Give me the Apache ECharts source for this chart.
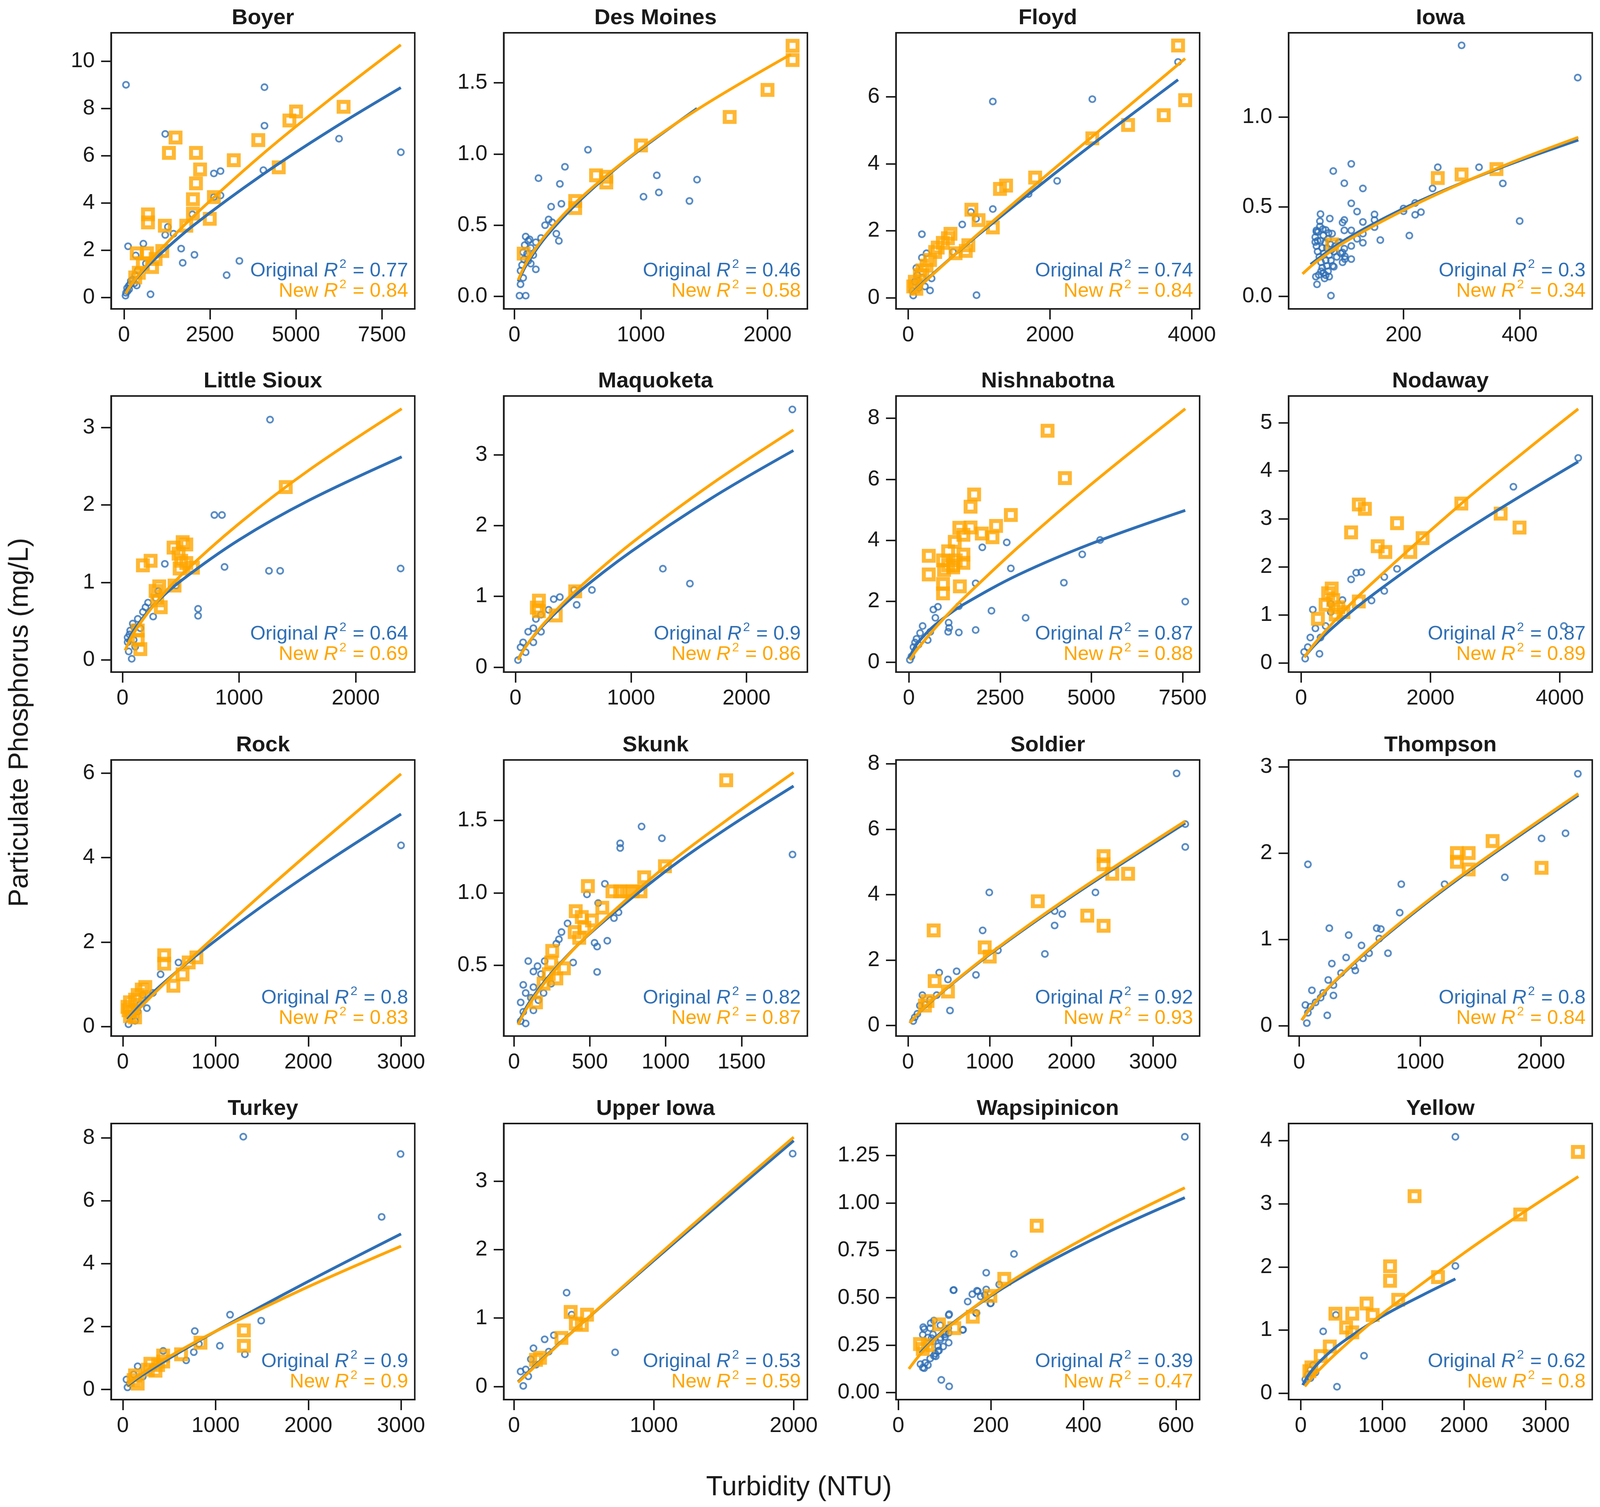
<!DOCTYPE html>
<html>
<head>
<meta charset="utf-8">
<script src="https://cdn.jsdelivr.net/npm/echarts@6/dist/echarts.min.js"></script>
<style>html,body{margin:0;padding:0;background:#fff;overflow:hidden;}#c{width:100vw;height:100vh;}</style>
</head>
<body>
<div id="c"></div>
<script>
const panelNames = ['Boyer','Des Moines','Floyd','Iowa','Little Sioux','Maquoketa','Nishnabotna','Nodaway','Rock','Skunk','Soldier','Thompson','Turkey','Upper Iowa','Wapsipinicon','Yellow'];
const origR2 = ['0.77','0.46','0.74','0.3','0.64','0.9','0.87','0.87','0.8','0.82','0.92','0.8','0.9','0.53','0.39','0.62'];
const newR2  = ['0.84','0.58','0.84','0.34','0.69','0.86','0.88','0.89','0.83','0.87','0.93','0.84','0.9','0.59','0.47','0.8'];
const xTicks = [[0,2500,5000,7500],[0,1000,2000],[0,2000,4000],[200,400],[0,1000,2000],[0,1000,2000],[0,2500,5000,7500],[0,2000,4000],[0,1000,2000,3000],[0,500,1000,1500],[0,1000,2000,3000],[0,1000,2000],[0,1000,2000,3000],[0,1000,2000],[0,200,400,600],[0,1000,2000,3000]];
const yTicks = [[0,2,4,6,8,10],[0,0.5,1,1.5],[0,2,4,6],[0,0.5,1],[0,1,2,3],[0,1,2,3],[0,2,4,6,8],[0,1,2,3,4,5],[0,2,4,6],[0.5,1,1.5],[0,2,4,6,8],[0,1,2,3],[0,2,4,6,8],[0,1,2,3],[0,0.25,0.5,0.75,1,1.25],[0,1,2,3,4]];
const yDecimals = [0,1,0,1,0,0,0,0,0,1,0,0,0,0,2,0];
const xRanges = [[-375,8455],[-85,2315],[-172,4110],[2,525],[-98,2506],[-102,2527],[-354,7966],[-194,4501],[-127,3148],[-68,1934],[-149,3570],[-88,2423],[-127,3148],[-74,2098],[-5,651],[-149,3570]];
const yRanges = [[-0.48,11.2],[-0.088,1.851],[-0.33,7.91],[-0.07,1.47],[-0.156,3.405],[-0.07,3.83],[-0.32,8.73],[-0.19,5.56],[-0.22,6.31],[0.013,1.917],[-0.32,8.12],[-0.12,3.08],[-0.32,8.46],[-0.19,3.84],[-0.037,1.419],[-0.1,4.27]];

// ---- Boyer
const boyerOrig = [[59,9.0],[4085,8.9],[4085,7.27],[6253,6.72],[8050,6.15],[1200,6.92],[2614,5.25],[2807,5.35],[4054,5.39],[2807,4.32],[2614,4.25],[1990,3.52],[1277,2.99],[1200,2.65],[1440,2.7],[1663,2.07],[1708,1.47],[2049,1.81],[3356,1.55],[2985,0.95],[772,0.14],[119,2.17],[564,2.28],[45,0.08],[104,0.27],[178,0.56],[252,0.76],[327,0.95],[401,1.15],[371,0.51],[342,1.78],[638,1.44],[60,0.2],[90,0.4],[140,0.5],[200,0.7],[300,0.6],[150,0.35]];
const boyerNew = [[6386,8.07],[5004,7.87],[4811,7.49],[3905,6.66],[1500,6.77],[1307,6.12],[2094,6.12],[2213,5.42],[3193,5.81],[4500,5.51],[2094,4.83],[2005,4.16],[2614,4.25],[2005,3.55],[2495,3.33],[1812,3.04],[1188,3.04],[698,3.52],[698,3.18],[1114,1.97],[371,1.87],[668,1.87],[921,1.63],[817,1.29],[549,1.44],[431,1.05],[327,0.85]];
const boyerOrigFit = [[50,0.176],[200,0.51],[500,1.04],[1000,1.77],[2000,3.03],[4000,5.17],[6000,7.08],[8050,8.88]];
const boyerNewFit = [[50,0.166],[200,0.52],[500,1.09],[1000,1.93],[2000,3.41],[4000,6.03],[6000,8.40],[8050,10.69]];
// ---- Des Moines
const desMoinesOrig = [[581,1.03],[399,0.91],[190,0.83],[359,0.79],[371,0.65],[290,0.63],[1125,0.85],[1443,0.82],[1141,0.73],[1020,0.70],[1383,0.67],[270,0.54],[298,0.52],[242,0.50],[331,0.44],[351,0.39],[210,0.41],[169,0.38],[89,0.42],[109,0.39],[129,0.34],[69,0.31],[149,0.29],[109,0.25],[169,0.19],[48,0.18],[69,0.13],[48,0.085],[40,0.005],[89,0.005],[129,0.23],[81,0.36],[60,0.22],[100,0.3],[75,0.26],[120,0.4]];
const desMoinesNew = [[2198,1.76],[2198,1.66],[2000,1.45],[1701,1.26],[1000,1.06],[645,0.85],[726,0.84],[726,0.80],[480,0.67],[480,0.62],[73,0.30]];
const desMoinesOrigFit = [[30,0.105],[100,0.23],[250,0.42],[500,0.659],[800,0.897],[1100,1.10],[1443,1.32]];
const desMoinesNewFit = [[30,0.115],[100,0.245],[250,0.435],[500,0.673],[1000,1.04],[1500,1.343],[2185,1.70]];
// ---- Floyd
const floydOrig = [[3806,7.04],[2597,5.93],[1194,5.86],[2101,3.49],[1698,3.10],[763,2.19],[1194,2.65],[194,1.90],[964,0.08],[309,0.22],[331,0.58],[259,1.33],[194,1.20],[115,0.89],[237,0.34],[165,0.41],[72,0.07],[58,0.21],[94,0.48],[129,0.68],[633,1.37],[957,2.36],[885,2.56],[150,0.3],[200,0.6]];
const floydNew = [[3806,7.53],[3906,5.90],[3604,5.45],[3101,5.16],[2597,4.76],[1791,3.59],[1381,3.35],[1295,3.25],[892,2.63],[993,2.32],[1194,2.10],[849,1.57],[813,1.40],[669,1.33],[597,1.91],[561,1.78],[489,1.64],[417,1.50],[381,1.37],[309,1.13],[259,0.96],[201,0.82],[165,0.68],[94,0.48],[72,0.34],[115,0.27]];
const floydOrigFit = [[50,0.12],[200,0.43],[500,1.00],[1000,1.90],[2000,3.6],[3000,5.23],[3806,6.51]];
const floydNewFit = [[50,0.11],[200,0.41],[500,0.99],[1000,1.93],[2000,3.75],[3000,5.53],[3906,7.14]];
// ---- Iowa
const iowaOrig = [[300,1.40],[500,1.22],[110,0.739],[79,0.699],[98,0.631],[130,0.602],[110,0.519],[120,0.473],[57,0.459],[150,0.457],[56,0.419],[73,0.434],[98,0.426],[95,0.412],[130,0.415],[150,0.426],[150,0.386],[200,0.49],[200,0.475],[220,0.521],[220,0.455],[230,0.47],[210,0.339],[160,0.314],[250,0.602],[259,0.72],[330,0.72],[371,0.63],[400,0.42],[110,0.368],[98,0.368],[130,0.35],[130,0.299],[120,0.321],[110,0.281],[99,0.208],[110,0.208],[99,0.223],[75,0.004],[51,0.067],[49,0.11],[66,0.118],[71,0.354],[77,0.35],[50,0.368],[61,0.375],[48,0.303],[52,0.31],[90,0.303],[98,0.266],[95,0.245],[80,0.165],[48,0.33],[50,0.28],[52,0.25],[55,0.22],[58,0.19],[60,0.16],[62,0.13],[53,0.36],[57,0.31],[60,0.27],[63,0.24],[66,0.2],[68,0.17],[70,0.14],[65,0.3],[68,0.27],[72,0.23],[75,0.2],[78,0.17],[80,0.25],[74,0.29],[62,0.34],[56,0.39],[50,0.36],[85,0.22],[82,0.28],[70,0.32],[66,0.37],[58,0.14],[64,0.1],[54,0.12],[72,0.11],[76,0.26],[88,0.3],[92,0.24],[95,0.19]];
const iowaNew = [[259,0.66],[300,0.68],[360,0.71],[77,0.29]];
const iowaOrigFit = [[40,0.178],[100,0.317],[200,0.49],[300,0.632],[400,0.757],[501,0.872]];
const iowaNewFit = [[26,0.125],[50,0.193],[100,0.305],[200,0.48],[300,0.631],[400,0.764],[501,0.887]];
// ---- Little Sioux
const littleSiouxOrig = [[1265,3.10],[788,1.87],[853,1.87],[875,1.20],[1256,1.15],[1352,1.15],[2385,1.18],[363,1.24],[648,0.66],[648,0.57],[459,0.96],[306,0.89],[219,0.74],[175,0.62],[263,0.56],[131,0.53],[88,0.47],[66,0.38],[44,0.29],[96,0.26],[79,0.015],[53,0.11],[109,0.17],[153,0.41],[44,0.23],[197,0.68],[284,0.80],[60,0.33],[100,0.42]];
const littleSiouxNew = [[1400,2.23],[438,1.45],[516,1.52],[547,1.49],[481,1.37],[503,1.28],[547,1.25],[490,1.18],[604,1.19],[175,1.22],[241,1.28],[315,0.95],[446,0.96],[284,0.89],[298,0.77],[328,0.68],[131,0.38],[131,0.26],[153,0.14]];
const littleSiouxOrigFit = [[40,0.225],[100,0.39],[263,0.70],[500,1.02],[1000,1.55],[1600,2.06],[2394,2.62]];
const littleSiouxNewFit = [[22,0.123],[100,0.355],[263,0.695],[500,1.09],[1000,1.76],[1600,2.45],[2394,3.24]];
// ---- Maquoketa
const maquoketaOrig = [[2397,3.64],[1276,1.39],[1510,1.18],[662,1.09],[530,0.88],[508,1.09],[384,0.99],[331,0.96],[287,0.81],[221,0.74],[177,0.68],[155,0.55],[110,0.50],[155,0.35],[88,0.21],[44,0.28],[22,0.10],[221,0.50],[66,0.35]];
const maquoketaNew = [[203,0.94],[203,0.79],[185,0.84],[349,0.73],[517,1.07]];
const maquoketaOrigFit = [[22,0.107],[100,0.316],[250,0.607],[517,1.02],[1000,1.63],[1700,2.39],[2406,3.06]];
const maquoketaNewFit = [[22,0.103],[100,0.316],[250,0.624],[517,1.07],[1000,1.745],[1700,2.59],[2406,3.35]];
// ---- Nishnabotna
const nishnabotnaOrig = [[7572,1.99],[5239,4.01],[4750,3.54],[4247,2.61],[3199,1.46],[2263,1.69],[2794,3.08],[2682,3.93],[2012,3.77],[1830,2.59],[1830,1.06],[1369,1.84],[1369,0.98],[1090,1.30],[1076,1.00],[1104,1.13],[796,1.82],[671,1.73],[726,1.46],[587,1.00],[517,0.73],[377,1.19],[307,0.96],[210,0.77],[126,0.50],[70,0.19],[28,0.08],[168,0.65],[265,0.58]];
const nishnabotnaNew = [[3800,7.59],[4275,6.04],[1788,5.50],[1690,5.10],[2794,4.83],[2389,4.47],[1690,4.42],[1383,4.41],[1495,4.18],[1998,4.22],[2291,4.10],[1257,3.95],[1076,3.64],[1495,3.53],[545,3.49],[1495,3.26],[1285,3.34],[936,3.34],[1076,3.18],[1215,3.18],[964,3.03],[1215,3.11],[545,2.88],[936,2.57],[936,2.26],[1397,2.49]];
const nishnabotnaOrigFit = [[28,0.177],[200,0.571],[600,1.10],[1000,1.49],[1500,1.90],[3000,2.87],[5000,3.89],[7572,4.98]];
const nishnabotnaNewFit = [[28,0.071],[200,0.38],[600,0.96],[1000,1.49],[1500,2.10],[3000,3.78],[5000,5.84],[7572,8.31]];
// ---- Nodaway
const nodawayOrig = [[4284,4.27],[3282,3.67],[4063,0.77],[1483,1.96],[1286,1.79],[1286,1.50],[1089,1.30],[931,1.89],[852,1.88],[773,1.74],[639,1.31],[458,1.23],[181,1.11],[284,0.19],[300,0.53],[221,0.72],[142,0.53],[103,0.33],[63,0.09],[47,0.23],[379,0.77],[458,1.06]];
const nodawayNew = [[2477,3.32],[892,3.30],[986,3.21],[3085,3.11],[3377,2.82],[773,2.72],[1483,2.91],[1184,2.43],[1302,2.31],[1878,2.60],[1688,2.31],[473,1.55],[418,1.45],[497,1.31],[379,1.21],[576,1.16],[655,1.06],[536,1.01],[892,1.28],[260,0.92]];
const nodawayOrigFit = [[50,0.12],[200,0.36],[500,0.75],[1000,1.31],[2000,2.28],[3000,3.15],[4284,4.19]];
const nodawayNewFit = [[50,0.12],[200,0.39],[500,0.85],[1000,1.54],[2477,3.32],[3500,4.45],[4284,5.29]];
// ---- Rock
const rockOrig = [[3000,4.29],[407,1.24],[325,0.80],[259,0.44],[61,0.06],[105,0.25],[160,0.36],[187,0.53],[600,1.52],[215,0.75],[132,0.14]];
const rockNew = [[446,1.69],[446,1.49],[793,1.64],[710,1.52],[644,1.24],[545,0.97],[242,0.94],[204,0.88],[160,0.75],[132,0.64],[77,0.58],[50,0.47],[105,0.36],[77,0.25],[61,0.39],[132,0.22]];
const rockOrigFit = [[50,0.175],[200,0.545],[400,0.96],[800,1.7],[1500,2.85],[2200,3.90],[3000,5.03]];
const rockNewFit = [[50,0.13],[200,0.48],[400,0.92],[800,1.75],[1500,3.14],[2200,4.48],[3000,5.98]];
// ---- Skunk
const skunkOrig = [[1836,1.265],[841,1.458],[975,1.377],[700,1.342],[700,1.31],[599,1.063],[481,0.99],[555,0.93],[689,0.866],[659,0.826],[615,0.67],[531,0.656],[548,0.63],[548,0.455],[390,0.52],[353,0.79],[313,0.73],[296,0.68],[279,0.65],[202,0.53],[94,0.53],[155,0.495],[128,0.458],[178,0.44],[128,0.35],[61,0.366],[77,0.31],[111,0.277],[161,0.26],[44,0.245],[61,0.18],[44,0.116],[77,0.1],[128,0.19],[195,0.31],[245,0.374]];
const skunkNew = [[1399,1.777],[995,1.184],[858,1.108],[834,1.011],[649,1.011],[700,1.011],[743,1.011],[783,1.011],[487,1.047],[407,0.874],[582,0.898],[447,0.834],[514,0.81],[400,0.73],[464,0.76],[430,0.69],[252,0.6],[245,0.52],[329,0.48],[229,0.44],[279,0.41],[195,0.374],[145,0.245]];
const skunkOrigFit = [[27,0.10],[100,0.243],[250,0.451],[500,0.72],[1000,1.15],[1400,1.443],[1843,1.737]];
const skunkNewFit = [[27,0.091],[100,0.231],[250,0.443],[500,0.724],[995,1.18],[1400,1.50],[1843,1.83]];
// ---- Soldier
const soldierOrig = [[3288,7.71],[3394,6.16],[3394,5.46],[2294,4.07],[994,4.07],[1794,3.5],[1888,3.41],[1794,3.06],[1675,2.19],[913,2.91],[1100,2.3],[831,1.55],[594,1.66],[381,1.62],[488,1.41],[513,0.46],[175,0.93],[144,0.61],[113,0.36],[63,0.14],[81,0.25],[206,0.64],[269,0.79],[350,0.93]];
const soldierNew = [[2394,5.18],[2394,4.93],[2500,4.64],[2694,4.64],[1588,3.8],[2194,3.36],[2394,3.05],[313,2.91],[938,2.39],[1000,2.11],[325,1.36],[488,1.04],[238,0.75],[206,0.61]];
const soldierOrigFit = [[20,0.077],[100,0.305],[300,0.78],[1000,2.18],[2000,3.94],[3394,6.19]];
const soldierNewFit = [[20,0.078],[100,0.308],[300,0.787],[1000,2.2],[2000,3.98],[3394,6.25]];
// ---- Thompson
const thompsonOrig = [[2304,2.92],[2202,2.23],[2004,2.17],[1700,1.72],[1202,1.64],[844,1.64],[831,1.31],[72,1.87],[249,1.13],[409,1.05],[641,1.13],[675,1.12],[662,1.01],[515,0.93],[734,0.84],[578,0.84],[527,0.78],[388,0.79],[451,0.69],[464,0.64],[270,0.72],[346,0.61],[240,0.53],[283,0.47],[283,0.35],[105,0.41],[177,0.325],[232,0.12],[63,0.03],[51,0.24],[93,0.22],[135,0.27],[198,0.38],[72,0.15]];
const thompsonNew = [[1304,2.0],[1304,1.9],[1401,2.0],[1401,1.81],[1599,2.14],[2004,1.83]];
const thompsonOrigFit = [[21,0.063],[100,0.216],[300,0.52],[700,1.025],[1300,1.685],[2308,2.67]];
const thompsonNewFit = [[21,0.063],[100,0.218],[300,0.526],[700,1.036],[1300,1.70],[2308,2.69]];
// ---- Turkey
const turkeyOrig = [[1299,8.04],[2995,7.49],[2791,5.49],[1156,2.38],[1492,2.19],[776,1.86],[1046,1.39],[765,1.19],[820,1.45],[1316,1.12],[683,0.93],[435,1.23],[325,0.71],[160,0.74],[116,0.48],[77,0.19],[50,0.07],[215,0.41],[39,0.32]];
const turkeyNew = [[1305,1.88],[1305,1.39],[837,1.49],[628,1.12],[435,1.08],[435,0.89],[380,0.78],[297,0.82],[270,0.63],[352,0.6],[132,0.45],[116,0.3],[160,0.19]];
const turkeyOrigFit = [[50,0.127],[200,0.437],[500,0.99],[1000,1.85],[2000,3.44],[3000,4.95]];
const turkeyNewFit = [[50,0.159],[200,0.494],[500,1.047],[1000,1.85],[2000,3.27],[3000,4.56]];
// ---- Upper Iowa
const upperIowaOrig = [[1993,3.40],[376,1.37],[412,1.05],[723,0.5],[285,0.75],[219,0.69],[248,0.51],[139,0.56],[120,0.40],[84,0.25],[47,0.22],[66,0.01],[102,0.15],[157,0.32]];
const upperIowaNew = [[405,1.09],[522,1.05],[485,0.9],[442,0.92],[339,0.71],[157,0.39],[186,0.42]];
const upperIowaOrigFit = [[29,0.07],[200,0.40],[500,0.95],[1000,1.84],[1500,2.72],[2000,3.59]];
const upperIowaNewFit = [[29,0.06],[200,0.39],[500,0.95],[1000,1.86],[1500,2.76],[2000,3.64]];
// ---- Wapsipinicon
const wapsiOrig = [[619,1.349],[250,0.731],[190,0.632],[120,0.541],[160,0.519],[170,0.537],[178,0.507],[190,0.544],[150,0.48],[200,0.471],[218,0.57],[169,0.419],[109,0.409],[140,0.332],[70,0.366],[54,0.345],[77,0.38],[109,0.263],[93,0.067],[110,0.033],[88,0.222],[81,0.191],[56,0.129],[48,0.15],[56,0.335],[75,0.307],[101,0.307],[101,0.294],[109,0.315],[91,0.28],[72,0.287],[119,0.54],[172,0.534],[187,0.515],[199,0.47],[168,0.42],[139,0.33],[110,0.414],[91,0.355],[69,0.34],[53,0.305],[64,0.29],[75,0.27],[86,0.244],[80,0.206],[69,0.18],[58,0.157],[53,0.132],[64,0.145],[91,0.29],[102,0.317],[108,0.34],[77,0.194],[86,0.219],[97,0.243]];
const wapsiNew = [[299,0.88],[229,0.60],[199,0.51],[161,0.40],[121,0.34],[88,0.36],[64,0.25],[53,0.23],[47,0.256]];
const wapsiOrigFit = [[47,0.208],[100,0.332],[200,0.51],[300,0.656],[450,0.843],[619,1.028]];
const wapsiNewFit = [[23,0.125],[50,0.208],[100,0.327],[200,0.515],[300,0.672],[450,0.876],[619,1.08]];
// ---- Yellow
const yellowOrig = [[1894,4.06],[1894,2.015],[775,0.594],[444,0.104],[275,0.98],[431,1.24],[150,0.445],[119,0.37],[88,0.30],[56,0.22],[181,0.33],[119,0.24]];
const yellowNew = [[3394,3.82],[1394,3.12],[2688,2.83],[1094,2.01],[1094,1.78],[1681,1.84],[1194,1.48],[806,1.42],[881,1.24],[425,1.26],[631,1.26],[556,1.04],[631,0.965],[356,0.74],[244,0.59],[106,0.35],[131,0.41]];
const yellowOrigFit = [[25,0.129],[100,0.30],[250,0.524],[500,0.8],[1000,1.22],[1500,1.56],[1894,1.81]];
const yellowNewFit = [[50,0.108],[200,0.336],[500,0.71],[1000,1.26],[2000,2.22],[2688,2.83],[3400,3.43]];

const origPoints = [boyerOrig,desMoinesOrig,floydOrig,iowaOrig,littleSiouxOrig,maquoketaOrig,nishnabotnaOrig,nodawayOrig,rockOrig,skunkOrig,soldierOrig,thompsonOrig,turkeyOrig,upperIowaOrig,wapsiOrig,yellowOrig];
const newPoints = [boyerNew,desMoinesNew,floydNew,iowaNew,littleSiouxNew,maquoketaNew,nishnabotnaNew,nodawayNew,rockNew,skunkNew,soldierNew,thompsonNew,turkeyNew,upperIowaNew,wapsiNew,yellowNew];
const origFits = [boyerOrigFit,desMoinesOrigFit,floydOrigFit,iowaOrigFit,littleSiouxOrigFit,maquoketaOrigFit,nishnabotnaOrigFit,nodawayOrigFit,rockOrigFit,skunkOrigFit,soldierOrigFit,thompsonOrigFit,turkeyOrigFit,upperIowaOrigFit,wapsiOrigFit,yellowOrigFit];
const newFits = [boyerNewFit,desMoinesNewFit,floydNewFit,iowaNewFit,littleSiouxNewFit,maquoketaNewFit,nishnabotnaNewFit,nodawayNewFit,rockNewFit,skunkNewFit,soldierNewFit,thompsonNewFit,turkeyNewFit,upperIowaNewFit,wapsiNewFit,yellowNewFit];

const BLUE = '#2f6fb5';
const ORANGE = '#ffa500';
const INK = '#1a1a1a';
const FONT = 'Liberation Sans, Arial, sans-serif';

const el = document.getElementById('c');
const CW = el.clientWidth || window.innerWidth || 4336;
const CH = el.clientHeight || window.innerHeight || 3859;
const sx = CW / 4336, sy = CH / 3859, s = Math.sqrt(sx * sy);
const colLeft = [301, 1365, 2428, 3492].map(v => v * sx);
const rowTop = [84, 1014, 1946, 2877].map(v => v * sy);
const W = 823 * sx, H = 707 * sy;

const grids = [], xAxes = [], yAxes = [], series = [], graphics = [];
for (let i = 0; i < 16; i++) {
  const L = colLeft[i % 4], T = rowTop[Math.floor(i / 4)];
  grids.push({left: L, top: T, width: W, height: H, show: true, borderColor: INK, borderWidth: 4 * s, backgroundColor: '#fff', containLabel: false});
  const axisCommon = {
    axisLine: {show: true, onZero: false, lineStyle: {color: INK, width: 4 * s}},
    splitLine: {show: false}
  };
  xAxes.push(Object.assign({}, axisCommon, {
    type: 'value', gridIndex: i, min: xRanges[i][0], max: xRanges[i][1],
    axisTick: {show: true, length: 27 * sy, lineStyle: {color: INK, width: 4 * s}, customValues: xTicks[i]},
    axisLabel: {customValues: xTicks[i], fontSize: 57 * s, color: INK, fontFamily: FONT, margin: 40 * sy, formatter: v => String(Math.round(v))}
  }));
  const dec = yDecimals[i];
  yAxes.push(Object.assign({}, axisCommon, {
    type: 'value', gridIndex: i, min: yRanges[i][0], max: yRanges[i][1],
    axisTick: {show: true, length: 27 * sx, lineStyle: {color: INK, width: 4 * s}, customValues: yTicks[i]},
    axisLabel: {customValues: yTicks[i], fontSize: 57 * s, color: INK, fontFamily: FONT, margin: 44 * sx, formatter: v => Number(v).toFixed(dec)}
  }));
  series.push({type: 'scatter', xAxisIndex: i, yAxisIndex: i, data: origPoints[i], symbol: 'circle', symbolSize: 16 * s,
    itemStyle: {color: 'rgba(0,0,0,0)', borderColor: BLUE, borderWidth: 4.5 * s}, z: 2, silent: true});
  series.push({type: 'scatter', xAxisIndex: i, yAxisIndex: i, data: newPoints[i], symbol: 'rect', symbolSize: 26 * s,
    itemStyle: {color: 'rgba(0,0,0,0)', borderColor: ORANGE, borderWidth: 10.5 * s}, z: 3, silent: true});
  series.push({type: 'line', xAxisIndex: i, yAxisIndex: i, data: origFits[i], symbol: 'none', smooth: 0.35,
    lineStyle: {color: BLUE, width: 7.5 * s}, z: 4, silent: true});
  series.push({type: 'line', xAxisIndex: i, yAxisIndex: i, data: newFits[i], symbol: 'none', smooth: 0.35,
    lineStyle: {color: ORANGE, width: 7.5 * s}, z: 5, silent: true});

  graphics.push({type: 'text', x: L + W / 2, y: T - 38 * sy, z: 100,
    style: {text: panelNames[i], fontSize: 58 * s, fontWeight: 'bold', fontFamily: FONT, fill: INK, align: 'center', verticalAlign: 'middle'}});
  const mk = (label, val, color, yy) => ({type: 'text', x: L + W - 18 * sx, y: yy, z: 100,
    style: {text: '{a|' + label + ' }{b|R}{c|2}{a| = ' + val + '}', align: 'right', verticalAlign: 'middle',
      rich: {
        a: {fill: color, fontSize: 52 * s, fontFamily: FONT, lineHeight: 60 * s, verticalAlign: 'bottom'},
        b: {fill: color, fontSize: 52 * s, fontFamily: FONT, fontStyle: 'italic', lineHeight: 60 * s, verticalAlign: 'bottom'},
        c: {fill: color, fontSize: 33 * s, fontFamily: FONT, verticalAlign: 'top', lineHeight: 35 * s, padding: [0, 2 * s, 0, 4 * s]}
      }}});
  graphics.push(mk('Original', origR2[i], BLUE, T + H - 101 * sy));
  graphics.push(mk('New', newR2[i], ORANGE, T + H - 49 * sy));
}
graphics.push({type: 'text', x: 55 * sx, y: 1850 * sy, rotation: Math.PI / 2, z: 100,
  style: {text: 'Particulate Phosphorus (mg/L)', fontSize: 72 * s, fontFamily: FONT, fill: INK, align: 'center', verticalAlign: 'middle'}});
graphics.push({type: 'text', x: 2165 * sx, y: 3810 * sy, z: 100,
  style: {text: 'Turbidity (NTU)', fontSize: 72 * s, fontFamily: FONT, fill: INK, align: 'center', verticalAlign: 'middle'}});

const chart = echarts.init(el, null, {renderer: 'canvas'});
chart.setOption({
  backgroundColor: '#fff',
  animation: false,
  grid: grids,
  xAxis: xAxes,
  yAxis: yAxes,
  series: series,
  graphic: graphics
});
</script>
</body>
</html>
